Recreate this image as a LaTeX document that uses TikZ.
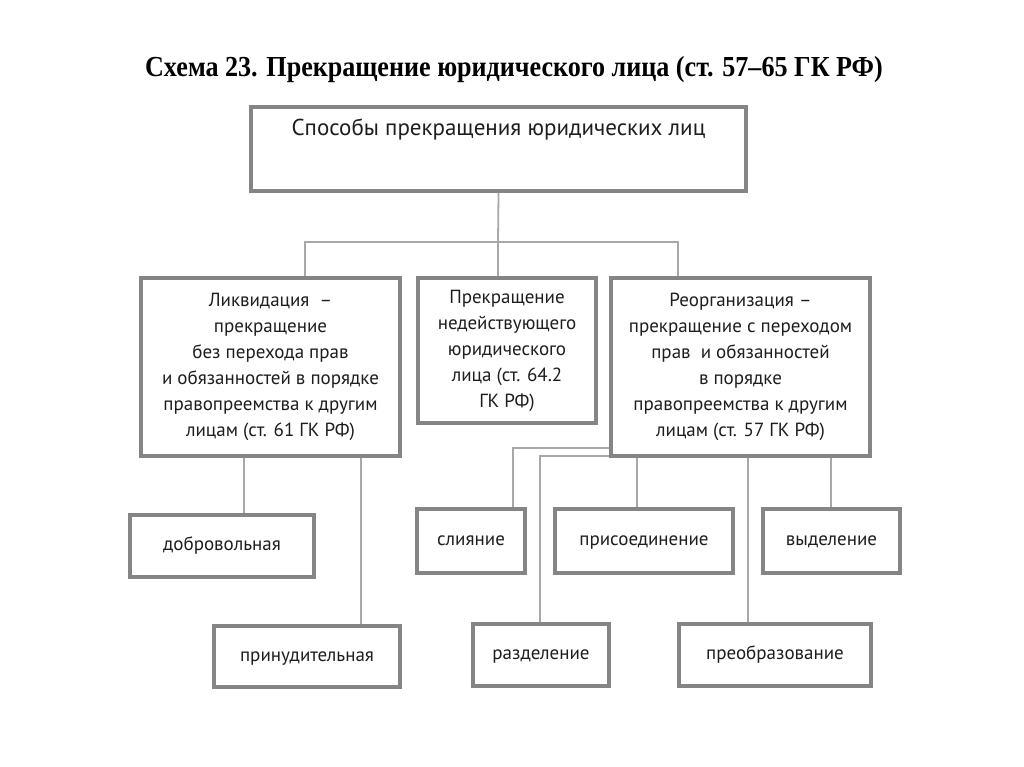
\documentclass[tikz,border=0pt]{standalone}
\usepackage{fontspec}
\setmainfont{PT Sans}
\newfontfamily\titlefont[FakeStretch=0.9]{Liberation Serif}
\definecolor{boxgray}{HTML}{858585}
\definecolor{linegray}{HTML}{A8A8A8}
\definecolor{txt}{HTML}{1E1E1E}
\begin{document}
\begin{tikzpicture}[x=1pt,y=-1pt,
  box/.style={draw=boxgray,line width=4pt,fill=white,align=center,text=txt,
    font=\fontsize{19}{26}\selectfont,inner sep=0pt},
  one/.style={text height=13pt,text depth=4pt},
  conn/.style={draw=linegray,line width=1.8pt}]
\useasboundingbox[fill=white] (0,0) rectangle (1024,767);
\node[font=\titlefont\bfseries\fontsize{29}{32}\selectfont,text=black] (title) at (514,70) {Схема 23. Прекращение юридического лица (ст. 57–65 ГК РФ)};

\node[box,font=\fontsize{23}{30}\selectfont,minimum width=495,minimum height=84] (top) at (498.5,149) {Способы прекращения юридических лиц\\[4pt]\strut};
\node[box,minimum width=259,minimum height=178] (liq) at (270.5,367) {Ликвидация~~–\\прекращение\\без перехода прав\\и обязанностей в порядке\\правопреемства к другим\\лицам (ст. 61 ГК РФ)};
\node[box,minimum width=178,minimum height=145] (mid) at (507,350.5) {Прекращение\\недействующего\\юридического\\лица (ст. 64.2\\ГК РФ)};
\node[box,minimum width=259,minimum height=178] (reorg) at (740.5,367) {Реорганизация –\\прекращение с переходом\\прав~~и обязанностей\\в порядке\\правопреемства к другим\\лицам (ст. 57 ГК РФ)};

\node[box,one,minimum width=184,minimum height=62] (dobr) at (222,546) {добровольная};
\node[box,one,minimum width=186,minimum height=61] (prin) at (307,656.5) {принудительная};
\node[box,one,minimum width=108,minimum height=64] (sl) at (471,541) {слияние};
\node[box,one,minimum width=178,minimum height=64] (pr) at (644,541) {присоединение};
\node[box,one,minimum width=137,minimum height=64] (vy) at (831.5,541) {выделение};
\node[box,one,minimum width=136,minimum height=62] (rz) at (541,655) {разделение};
\node[box,one,minimum width=192,minimum height=62] (po) at (775,655) {преобразование};

\coordinate (b) at (498,242);
\draw[conn] (top.south) -- (b);
\draw[conn] ([xshift=34.5pt]liq.north) |- (b) -| ([xshift=-62.5pt]reorg.north);
\draw[conn] (b) -- (mid.north -| b);

\coordinate (l1) at ([xshift=-26.5pt]liq.south);
\coordinate (l2) at ([xshift=90.5pt]liq.south);
\draw[conn] (l1) -- (l1 |- dobr.north);
\draw[conn] (l2) -- (l2 |- prin.north);

\coordinate (r1) at ([yshift=-81pt]reorg.west);
\draw[conn] (r1) -| ([xshift=42pt]sl.north);
\coordinate (r2) at ([yshift=2pt]reorg.south west);
\draw[conn] (r2) -| ([xshift=-1pt]rz.north);
\coordinate (r3) at ([xshift=-103.5pt]reorg.south);
\draw[conn] (r3) -- (r3 |- pr.north);
\coordinate (r4) at ([xshift=90.5pt]reorg.south);
\draw[conn] (r4) -- (r4 |- vy.north);
\coordinate (r5) at ([xshift=7.5pt]reorg.south);
\draw[conn] (r5) -- (r5 |- po.north);
\end{tikzpicture}
\end{document}
